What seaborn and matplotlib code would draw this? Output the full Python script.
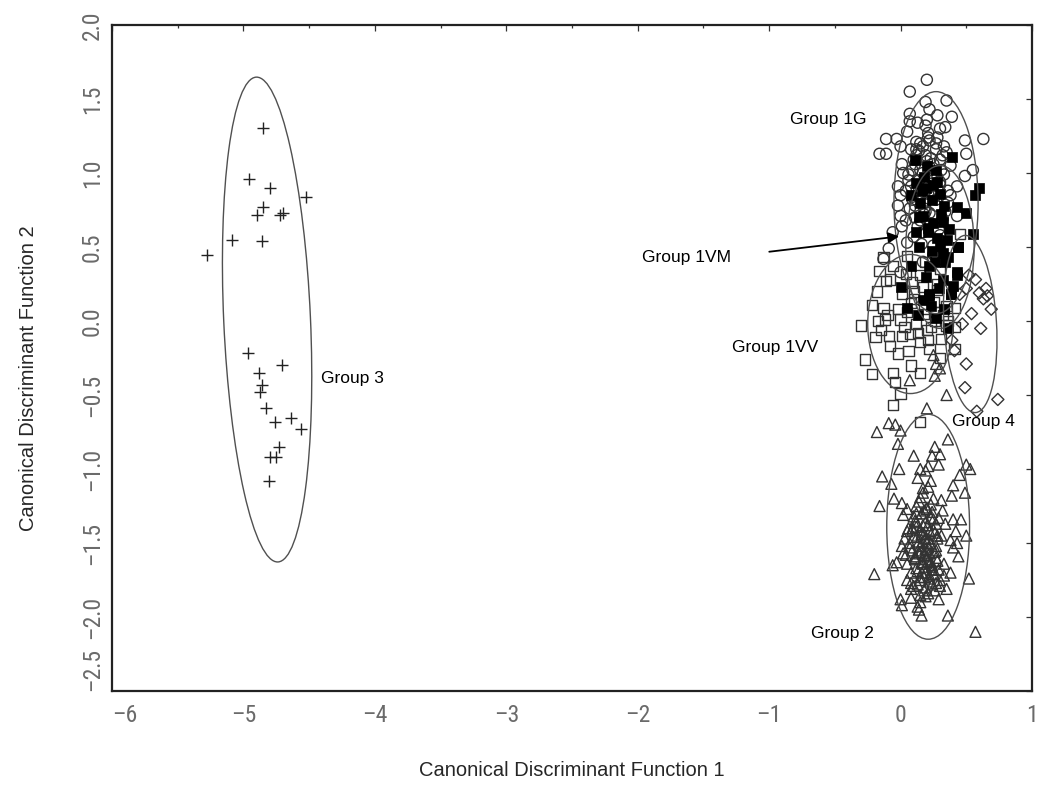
import numpy as np
import pandas as pd
import matplotlib
matplotlib.use('Agg')
import matplotlib.pyplot as plt
from matplotlib.patches import Ellipse
from matplotlib.ticker import MultipleLocator, FuncFormatter
import seaborn as sns

# puntos (funcion discriminante 1, funcion discriminante 2)
g3_x = [-4.853, -4.955, -4.798, -4.524, -4.849, -4.899, -4.722, -4.697, -5.085, -4.861, -5.280, -4.963,
        -4.709, -4.879, -4.861, -4.874, -4.828, -4.760, -4.640, -4.564, -4.729, -4.798, -4.752, -4.803]
g3_y = [1.302, 0.959, 0.897, 0.840, 0.772, 0.716, 0.716, 0.732, 0.547, 0.543, 0.446, -0.218,
        -0.297, -0.353, -0.432, -0.478, -0.590, -0.680, -0.658, -0.732, -0.849, -0.917, -0.917, -1.079]

g2_x = [-0.18, -0.09, -0.04, 0.00, 0.20, -0.02, 0.26, 0.36, 0.10, 0.24, 0.30, 0.29, 0.21, 0.15, 0.19,
        -0.01, -0.14, 0.50, 0.53, 0.45, 0.13, -0.07, 0.21, 0.40, 0.49, 0.17, 0.15, 0.25, 0.39, -0.05,
        0.01, -0.16, 0.31, 0.12, 0.05, 0.20, 0.32, 0.02, 0.16, 0.24, 0.40, 0.46, 0.11, 0.19, 0.27,
        0.34, 0.05, 0.15, 0.22, 0.42, 0.50, 0.03, 0.10, 0.19, 0.38, 0.43, 0.01, 0.07, 0.15, 0.21,
        0.27, 0.40, 0.44, 0.02, 0.11, 0.20, 0.27, -0.03, 0.05, 0.16, 0.24, 0.33, -0.06, -0.20, 0.08,
        0.19, 0.25, 0.38, 0.52, 0.05, 0.15, 0.22, 0.30, 0.08, 0.19, 0.35, 0.26, 0.00, 0.08, 0.15,
        0.29, 0.01, 0.14, 0.16, 0.36, 0.57, 0.07, 0.26, 0.35, 0.25, 0.27, 0.30, 0.12, 0.18, 0.23,
        0.14, 0.21, 0.09, 0.17, 0.24, 0.13, 0.20, 0.28, 0.18, 0.22,
        0.14, 0.23, 0.10, 0.29, 0.17, 0.06, 0.26, 0.13, 0.20, 0.31, 0.09, 0.22, 0.16, 0.28, 0.04,
        0.19, 0.25, 0.12, 0.33, 0.18, 0.08, 0.24, 0.21, 0.15, 0.30, 0.11, 0.27, 0.17, 0.23, 0.13,
        0.18, 0.12, 0.25, 0.21, 0.09, 0.16, 0.28, 0.14, 0.23, 0.19, 0.07, 0.26, 0.11, 0.20, 0.17,
        0.24, 0.13, 0.29, 0.15, 0.22, 0.10, 0.18, 0.27, 0.16, 0.21, 0.12, 0.25, 0.19, 0.14, 0.23]
g2_y = [-0.75, -0.69, -0.70, -0.74, -0.59, -0.83, -0.85, -0.80, -0.91, -0.91, -0.90, -0.97, -0.98, -1.00, -1.01,
        -1.00, -1.05, -0.97, -1.00, -1.04, -1.06, -1.10, -1.12, -1.11, -1.16, -1.16, -1.19, -1.20, -1.18, -1.20,
        -1.23, -1.25, -1.21, -1.25, -1.27, -1.27, -1.28, -1.31, -1.30, -1.29, -1.34, -1.34, -1.35, -1.36, -1.37,
        -1.37, -1.42, -1.41, -1.42, -1.42, -1.45, -1.47, -1.46, -1.47, -1.48, -1.50, -1.52, -1.53, -1.52, -1.53,
        -1.52, -1.53, -1.59, -1.57, -1.59, -1.59, -1.60, -1.63, -1.64, -1.63, -1.65, -1.64, -1.65, -1.71, -1.70,
        -1.70, -1.71, -1.70, -1.74, -1.75, -1.75, -1.74, -1.75, -1.81, -1.80, -1.81, -1.82, -1.88, -1.87, -1.90,
        -1.88, -1.92, -1.95, -1.99, -1.99, -2.10, -0.40, -0.37, -0.50, -0.23, -0.29, -0.32, -1.39, -1.44, -1.33,
        -1.56, -1.62, -1.40, -1.49, -1.68, -1.78, -1.26, -1.45, -1.58, -1.72,
        -1.22, -1.24, -1.32, -1.33, -1.38, -1.40, -1.43, -1.45, -1.50, -1.45, -1.55, -1.57, -1.55, -1.62, -1.58,
        -1.66, -1.68, -1.67, -1.72, -1.73, -1.77, -1.78, -1.84, -1.85, -1.79, -1.61, -1.55, -1.13, -1.08, -1.93,
        -1.28, -1.30, -1.34, -1.38, -1.41, -1.44, -1.47, -1.49, -1.51, -1.54, -1.50, -1.56, -1.60, -1.61, -1.64,
        -1.66, -1.69, -1.68, -1.73, -1.76, -1.79, -1.82, -1.77, -1.70, -1.47, -1.36, -1.41, -1.86, -1.57, -1.63]

g1g_x = [0.20, 0.07, 0.35, 0.19, 0.22, 0.28, 0.07, 0.39, 0.19, 0.30, 0.34, 0.63, -0.11, -0.03, 0.21,
         0.12, 0.49, -0.16, -0.11, 0.00, 0.08, 0.17, 0.27, 0.35, 0.50, 0.01, 0.10, 0.20, 0.30, 0.38,
         0.55, 0.49, 0.06, 0.15, 0.24, -0.02, 0.08, 0.30, 0.43, 0.00, 0.15, 0.38, -0.02, 0.07, 0.27,
         0.00, 0.01, 0.15, 0.32, -0.06, 0.43, 0.17, 0.05, -0.09, 0.25, -0.13, 0.00, 0.17, 0.12, 0.22,
         0.26, 0.14, 0.33, 0.09, 0.18, 0.24, 0.11, 0.29, 0.04, 0.36, 0.21, 0.13, 0.27, 0.19, 0.10,
         0.05, 0.14, 0.23, 0.31, 0.02, 0.11, 0.20, 0.28, 0.36, 0.09, 0.18, 0.26, 0.34, 0.04, 0.13,
         0.22, 0.30, 0.16, 0.25, 0.07,
         0.15, 0.22, 0.28, 0.12, 0.19, 0.25, 0.32, 0.09, 0.17, 0.24, 0.30, 0.14, 0.21, 0.27, 0.11,
         0.18, 0.23, 0.06, 0.33, 0.20]
g1g_y = [1.63, 1.55, 1.49, 1.48, 1.43, 1.39, 1.35, 1.38, 1.32, 1.30, 1.31, 1.23, 1.23, 1.23, 1.24,
         1.21, 1.22, 1.13, 1.13, 1.18, 1.16, 1.18, 1.16, 1.14, 1.13, 1.06, 1.09, 1.08, 1.09, 1.05,
         1.02, 0.98, 0.99, 1.02, 1.00, 0.91, 0.91, 0.94, 0.91, 0.85, 0.86, 0.85, 0.78, 0.76, 0.78,
         0.71, 0.64, 0.68, 0.69, 0.60, 0.71, 0.60, 0.53, 0.49, 0.51, 0.42, 0.33, 0.40, 1.12, 1.04,
         0.96, 0.95, 0.99, 0.82, 0.80, 0.88, 0.70, 0.62, 0.88, 0.80, 1.27, 1.34, 1.20, 0.74, 0.57,
         1.28, 1.15, 1.10, 1.02, 1.00, 1.06, 0.92, 0.97, 0.88, 0.84, 0.76, 0.84, 0.74, 0.68, 0.64,
         0.73, 0.58, 0.52, 0.45, 1.40,
         1.20, 1.22, 1.24, 1.16, 1.12, 1.06, 1.12, 1.02, 1.00, 0.96, 0.92, 0.90, 0.86, 0.82, 0.78,
         0.72, 0.66, 0.95, 1.18, 1.36]

g1vm_x = [0.11, 0.39, 0.12, 0.19, 0.30, 0.60, 0.57, 0.08, 0.15, 0.24, 0.43, 0.50, 0.17, 0.25, 0.32,
          0.55, 0.12, 0.35, 0.44, 0.30, 0.36, 0.08, 0.43, 0.32, 0.00, 0.38, 0.22, 0.32, 0.44, 0.22,
          0.43, 0.05, 0.38, 0.13, 0.27, 0.36, 0.22, 0.18, 0.27, 0.20, 0.28, 0.14, 0.33, 0.21, 0.26,
          0.16, 0.25, 0.31, 0.21, 0.28, 0.37, 0.14, 0.24, 0.34, 0.19, 0.29, 0.40, 0.23, 0.17, 0.33]
g1vm_y = [1.09, 1.11, 0.93, 0.90, 0.86, 0.90, 0.85, 0.85, 0.80, 0.82, 0.77, 0.73, 0.71, 0.66, 0.67,
          0.59, 0.60, 0.55, 0.50, 0.51, 0.43, 0.37, 0.33, 0.28, 0.23, 0.18, 0.17, 0.46, 0.50, 0.37,
          0.31, 0.09, 0.18, 0.04, 0.02, -0.05, 0.18, 0.97, 1.02, 1.05, 0.94, 0.70, 0.78, 0.60, 0.40,
          0.88, 0.92, 0.72, 0.63, 0.56, 0.62, 0.50, 0.47, 0.40, 0.30, 0.22, 0.24, 0.10, 0.14, 0.08]

g1vv_x = [-0.16, -0.13, -0.18, -0.22, -0.30, -0.19, -0.09, -0.08, -0.27, -0.22, -0.06, 0.08, 0.15, -0.04,
          0.00, -0.06, -0.13, 0.00, 0.07, 0.15, 0.21, 0.01, 0.12, 0.35, 0.41, 0.41, 0.35, 0.41, 0.25,
          0.17, 0.01, -0.08, 0.05, 0.15, 0.30, 0.45, 0.32, 0.22, 0.30, 0.15, -0.12, -0.11, -0.06, 0.05,
          0.10, 0.18, 0.26, -0.02, 0.06, 0.28, 0.20, -0.15, 0.09,
          -0.02, 0.08, 0.18, 0.26, 0.36, -0.10, 0.03, 0.13, 0.23, 0.31, -0.17, 0.10, 0.19, 0.28, 0.04]
g1vv_y = [0.34, 0.43, 0.20, 0.11, -0.03, -0.11, -0.10, -0.17, -0.26, -0.36, -0.35, -0.30, -0.35, -0.41,
          -0.49, -0.57, 0.09, 0.01, -0.09, -0.14, -0.13, -0.10, -0.02, -0.03, -0.04, -0.19, 0.10, 0.09, 0.13,
          0.23, 0.18, 0.28, 0.44, 0.31, 0.35, 0.59, 0.04, -0.19, -0.25, -0.68, 0.01, 0.27, 0.37, 0.06,
          0.15, 0.05, 0.00, -0.22, -0.20, 0.21, -0.06, -0.06, 0.26,
          0.08, 0.12, 0.08, 0.06, 0.00, 0.04, -0.04, -0.08, -0.04, -0.12, 0.00, 0.20, 0.40, 0.25, 0.32]

g4_x = [0.57, 0.50, 0.60, 0.66, 0.69, 0.63, 0.54, 0.45, 0.50, 0.49, 0.74, 0.58, 0.41, 0.39, 0.65, 0.52,
        0.61, 0.47]
g4_y = [0.28, 0.22, 0.19, 0.17, 0.08, 0.15, 0.05, 0.18, -0.29, -0.45, -0.53, -0.61, -0.20, -0.13, 0.22, 0.31,
        -0.05, -0.02]

# elipses de cada grupo: centro, ancho, alto, angulo
ell_cx = [-4.82, 0.27, 0.30, 0.075, 0.53, 0.21]
ell_cy = [0.01, 0.80, 0.50, -0.02, -0.02, -1.39]
ell_w = [0.66, 0.64, 0.52, 0.65, 0.40, 0.63]
ell_h = [3.28, 1.50, 1.10, 0.94, 1.20, 1.52]
ell_ang = [2.9, 0.0, 0.0, 0.0, 4.0, 0.0]

# etiquetas
lab_txt = ['Group 1G', 'Group 1VM', 'Group 1VV', 'Group 3', 'Group 4', 'Group 2']
lab_x = [-0.552, -1.63, -0.955, -4.17, 0.63, -0.44]
lab_y = [1.365, 0.43, -0.176, -0.39, -0.68, -2.11]

df = pd.concat([
    pd.DataFrame({'f1': g2_x, 'f2': g2_y, 'grupo': '2'}),
    pd.DataFrame({'f1': g4_x, 'f2': g4_y, 'grupo': '4'}),
    pd.DataFrame({'f1': g1vv_x, 'f2': g1vv_y, 'grupo': '1VV'}),
    pd.DataFrame({'f1': g1g_x, 'f2': g1g_y, 'grupo': '1G'}),
    pd.DataFrame({'f1': g1vm_x, 'f2': g1vm_y, 'grupo': '1VM'}),
    pd.DataFrame({'f1': g3_x, 'f2': g3_y, 'grupo': '3'}),
])

sns.set_style('white')
plt.rcParams['font.family'] = ['Liberation Sans', 'DejaVu Sans']

fig = plt.figure(figsize=(10.4, 7.92), dpi=100)
ax = fig.add_axes([0.1077, 0.1275, 0.8846, 0.8409])

mk = '#333333'
estilos = {
    '2': dict(marker='^', s=62, facecolor='none', edgecolor=mk, linewidth=1.0),
    '4': dict(marker='D', s=38, facecolor='none', edgecolor=mk, linewidth=1.0),
    '1VV': dict(marker='s', s=54, facecolor='none', edgecolor=mk, linewidth=1.0),
    '1G': dict(marker='o', s=64, facecolor='none', edgecolor=mk, linewidth=1.0),
    '1VM': dict(marker='s', s=54, facecolor='black', edgecolor='black', linewidth=0.5),
    '3': dict(marker='+', s=80, color='#222222', linewidth=1.0),
}
for g, kw in estilos.items():
    sub = df[df['grupo'] == g]
    sns.scatterplot(data=sub, x='f1', y='f2', ax=ax, legend=False, zorder=3, **kw)

for cx, cy, w, h, a in zip(ell_cx, ell_cy, ell_w, ell_h, ell_ang):
    ax.add_patch(Ellipse((cx, cy), w, h, angle=a, fill=False, edgecolor='#505050', linewidth=1.0, zorder=4))

for t, x, y in zip(lab_txt, lab_x, lab_y):
    ax.text(x, y, t, ha='center', va='center', fontsize=12.5, color='black', zorder=5)

ax.annotate('', xy=(0.01, 0.574), xytext=(-1.02, 0.466),
            arrowprops=dict(arrowstyle='-|>', color='black', lw=1.3, mutation_scale=16), zorder=5)

ax.set_xlim(-6, 1)
ax.set_ylim(-2.5, 2.0)
ax.xaxis.set_major_locator(MultipleLocator(1))
ax.xaxis.set_minor_locator(MultipleLocator(0.5))
ax.yaxis.set_major_locator(MultipleLocator(0.5))
# signo menos largo como en el original
ax.xaxis.set_major_formatter(FuncFormatter(lambda v, p: f'{v:.0f}'.replace('-', '\u2013')))
ax.yaxis.set_major_formatter(FuncFormatter(lambda v, p: f'{v:.1f}'.replace('-', '\u2013')))

ax.tick_params(axis='both', which='both', direction='in', top=True, right=True, color='#333333')
ax.tick_params(axis='both', which='major', length=4, width=0.9)
ax.tick_params(axis='both', which='minor', length=2.5, width=0.9)
ax.tick_params(axis='x', which='major', pad=9, labelsize=17, labelcolor='#6a6a6a')
ax.tick_params(axis='y', which='major', pad=6, labelsize=17, labelcolor='#6a6a6a')

for sp in ax.spines.values():
    sp.set_color('#222222')
    sp.set_linewidth(1.6)

ax.set_xlabel('Canonical Discriminant Function 1', fontsize=14.5)
ax.set_ylabel('Canonical Discriminant Function 2', fontsize=14.5)
ax.xaxis.set_label_coords(0.5, -0.119)
ax.xaxis.label.set_va('center')
ax.yaxis.set_label_coords(-0.0913, 0.47)
ax.yaxis.label.set_va('center')

# numeros de los ejes en letra estrecha
fig.canvas.draw()
fam_num = ['Roboto Condensed', 'DejaVu Sans']
for t in ax.xaxis.get_major_ticks():
    t.label1.set_family(fam_num)
    if abs(t.get_loc() + 6) < 1e-6:
        t.label1.set_ha('left')
for t in ax.yaxis.get_major_ticks():
    t.label1.set_family(fam_num)
    t.label1.set_rotation(90)
    t.label1.set_va('center')
    if abs(t.get_loc() + 2.5) < 1e-6:
        t.label1.set_va('bottom')

plt.savefig('out.png', dpi=100)
